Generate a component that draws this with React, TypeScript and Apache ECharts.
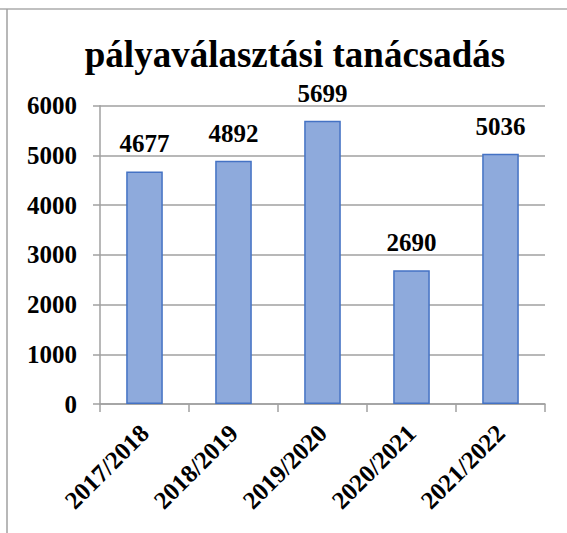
import React, { useEffect, useRef } from "react";
import * as echarts from "echarts";

const categories = ["2017/2018", "2018/2019", "2019/2020", "2020/2021", "2021/2022"];
const values = [4677, 4892, 5699, 2690, 5036];
const yMin = 0;
const yMax = 6000;
const yInterval = 1000;
const titleText = "pályaválasztási tanácsadás";

const FONT = "Liberation Serif, Times New Roman, serif";

export default function App() {
  const ref = useRef<HTMLDivElement>(null);
  useEffect(() => {
    if (!ref.current) return;
    const chart = echarts.init(ref.current, null, { renderer: "svg" });
    chart.setOption({
      animation: false,
      backgroundColor: "#ffffff",
      textStyle: { fontFamily: FONT },
      title: {
        text: titleText,
        left: 290,
        top: 31,
        textAlign: "center",
        textStyle: { fontFamily: FONT, fontWeight: "bold", fontSize: 37, color: "#000" },
      },
      graphic: [
        { type: "line", shape: { x1: 0, y1: 9, x2: 567, y2: 9 }, style: { stroke: "#c0c0c0", lineWidth: 2 } },
        { type: "line", shape: { x1: 7, y1: 9, x2: 7, y2: 533 }, style: { stroke: "#a0a0a0", lineWidth: 1.5 } },
      ],
      grid: { left: 100, right: 22, top: 105.7, bottom: 129, containLabel: false },
      xAxis: {
        type: "category",
        data: categories,
        axisLine: { lineStyle: { color: "#a0a0a0", width: 1.5 } },
        axisTick: { show: true, length: 8, lineStyle: { color: "#a0a0a0", width: 1.5 } },
        axisLabel: {
          rotate: 45,
          margin: 25,
          fontFamily: FONT,
          fontWeight: "bold",
          fontSize: 25,
          color: "#000",
        },
      },
      yAxis: {
        type: "value",
        min: yMin,
        max: yMax,
        interval: yInterval,
        axisLine: { show: true, lineStyle: { color: "#a0a0a0", width: 1.5 } },
        axisTick: { show: true, length: 7, lineStyle: { color: "#a0a0a0", width: 1.5 } },
        splitLine: { show: true, lineStyle: { color: "#a0a0a0", width: 1.5 } },
        axisLabel: {
          margin: 23,
          formatter: (v: number) => String(v),
          fontFamily: FONT,
          fontWeight: "bold",
          fontSize: 25,
          color: "#000",
        },
      },
      series: [
        {
          type: "bar",
          data: values,
          barWidth: 36.6,
          itemStyle: { color: "#8eaadc", borderColor: "#4472c4", borderWidth: 1.5 },
          label: {
            show: true,
            position: "top",
            distance: 15,
            fontFamily: FONT,
            fontWeight: "bold",
            fontSize: 25,
            color: "#000",
          },
        },
      ],
    });
    return () => chart.dispose();
  }, []);
  return (
    <div
      ref={ref}
      style={{ position: "absolute", left: 0, top: 0, width: 567, height: 533 }}
    />
  );
}
